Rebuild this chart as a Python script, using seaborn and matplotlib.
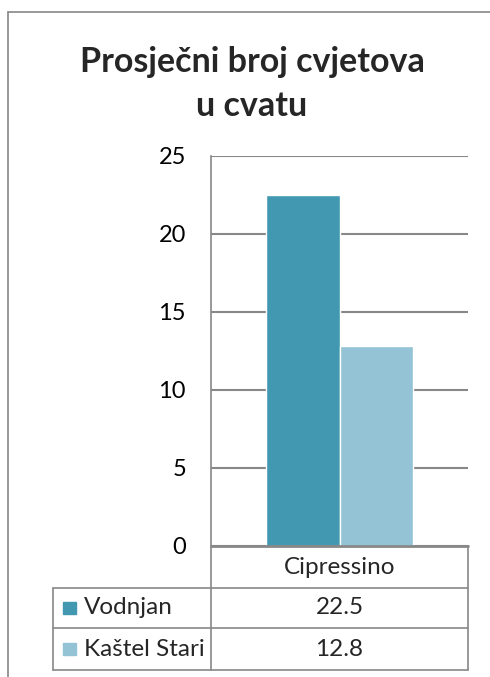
import matplotlib
matplotlib.use("Agg")
import matplotlib.pyplot as plt
import seaborn as sns
import pandas as pd
from matplotlib.lines import Line2D
from matplotlib.patches import Rectangle

title = "Prosječni broj cvjetova\nu cvatu"
categories = ["Cipressino"]
series_names = ["Vodnjan", "Kaštel Stari"]
series_values = [[22.5], [12.8]]
series_colors = ["#4298B0", "#93C3D4"]
y_ticks = [0, 5, 10, 15, 20, 25]

rows = []
for name, vals in zip(series_names, series_values):
    for c, v in zip(categories, vals):
        rows.append({"cat": c, "series": name, "value": v})
df = pd.DataFrame(rows)

sns.set_theme(style="white")
plt.rcParams["font.family"] = ["Lato", "DejaVu Sans"]

W, H = 490, 677
fig = plt.figure(figsize=(W / 100, H / 100), dpi=100)

def fx(px):
    return px / W

def fy(py):
    return 1 - py / H

GRID = "#888888"
# outer chart border
fig.add_artist(Line2D([fx(8), fx(8)], [fy(12), fy(677)], color=GRID, lw=1.2, transform=fig.transFigure))
fig.add_artist(Line2D([fx(8), fx(490)], [fy(12), fy(12)], color=GRID, lw=1.2, transform=fig.transFigure))

L, R, T, B = 211, 468, 156, 546
ax = fig.add_axes([fx(L), fy(B), fx(R) - fx(L), fy(T) - fy(B)])
sns.barplot(data=df, x="cat", y="value", hue="series", palette=series_colors,
            ax=ax, width=0.57, edgecolor="white", linewidth=1.0, legend=False, saturation=1)
ax.set_ylim(0, 25)
ax.set_xlim(-0.5, 0.5)
ax.set_yticks(y_ticks)
ax.set_yticklabels([str(t) for t in y_ticks], fontsize=17, color="#000000")
ax.tick_params(axis="y", length=0, pad=18)
ax.set_xticks([])
ax.set_xlabel("")
ax.set_ylabel("")
for s in ["top", "right", "bottom"]:
    ax.spines[s].set_visible(False)
ax.spines["left"].set_color(GRID)
ax.spines["left"].set_linewidth(1.2)
ax.yaxis.grid(True, color=GRID, linewidth=1.5)
ax.set_axisbelow(True)

fig.text(fx(252), fy(84), title, ha="center", va="center", fontsize=24.5,
         fontweight="bold", linespacing=1.45)

# data table
row_y = [546, 588, 628, 670]
leg_left = 53
lw = 1.2
def hline(y, x0, x1, c=GRID, w=lw):
    fig.add_artist(Line2D([fx(x0), fx(x1)], [fy(y), fy(y)], color=c, lw=w, transform=fig.transFigure))
def vline(x, y0, y1):
    fig.add_artist(Line2D([fx(x), fx(x)], [fy(y0), fy(y1)], color=GRID, lw=lw, transform=fig.transFigure))

hline(row_y[0], L, R, w=2.0)
hline(row_y[1], leg_left, R)
hline(row_y[2], leg_left, R)
hline(row_y[3], leg_left, R)
vline(L, row_y[0], row_y[3])
vline(R, row_y[0], row_y[3])
vline(leg_left, row_y[1], row_y[3])

fig.text(fx((L + R) / 2), fy((row_y[0] + row_y[1]) / 2), categories[0],
         ha="center", va="center", fontsize=17.5)
for i, (name, vals, col) in enumerate(zip(series_names, series_values, series_colors)):
    yc = (row_y[i + 1] + row_y[i + 2]) / 2
    fig.add_artist(Rectangle((fx(63), fy(yc + 6)), fx(76) - fx(63), fy(yc - 6) - fy(yc + 6),
                             color=col, transform=fig.transFigure))
    fig.text(fx(84), fy(yc), name, ha="left", va="center", fontsize=17.5)
    fig.text(fx((L + R) / 2), fy(yc), f"{vals[0]:.1f}", ha="center", va="center", fontsize=17.5)

fig.savefig("out.png", dpi=100)
